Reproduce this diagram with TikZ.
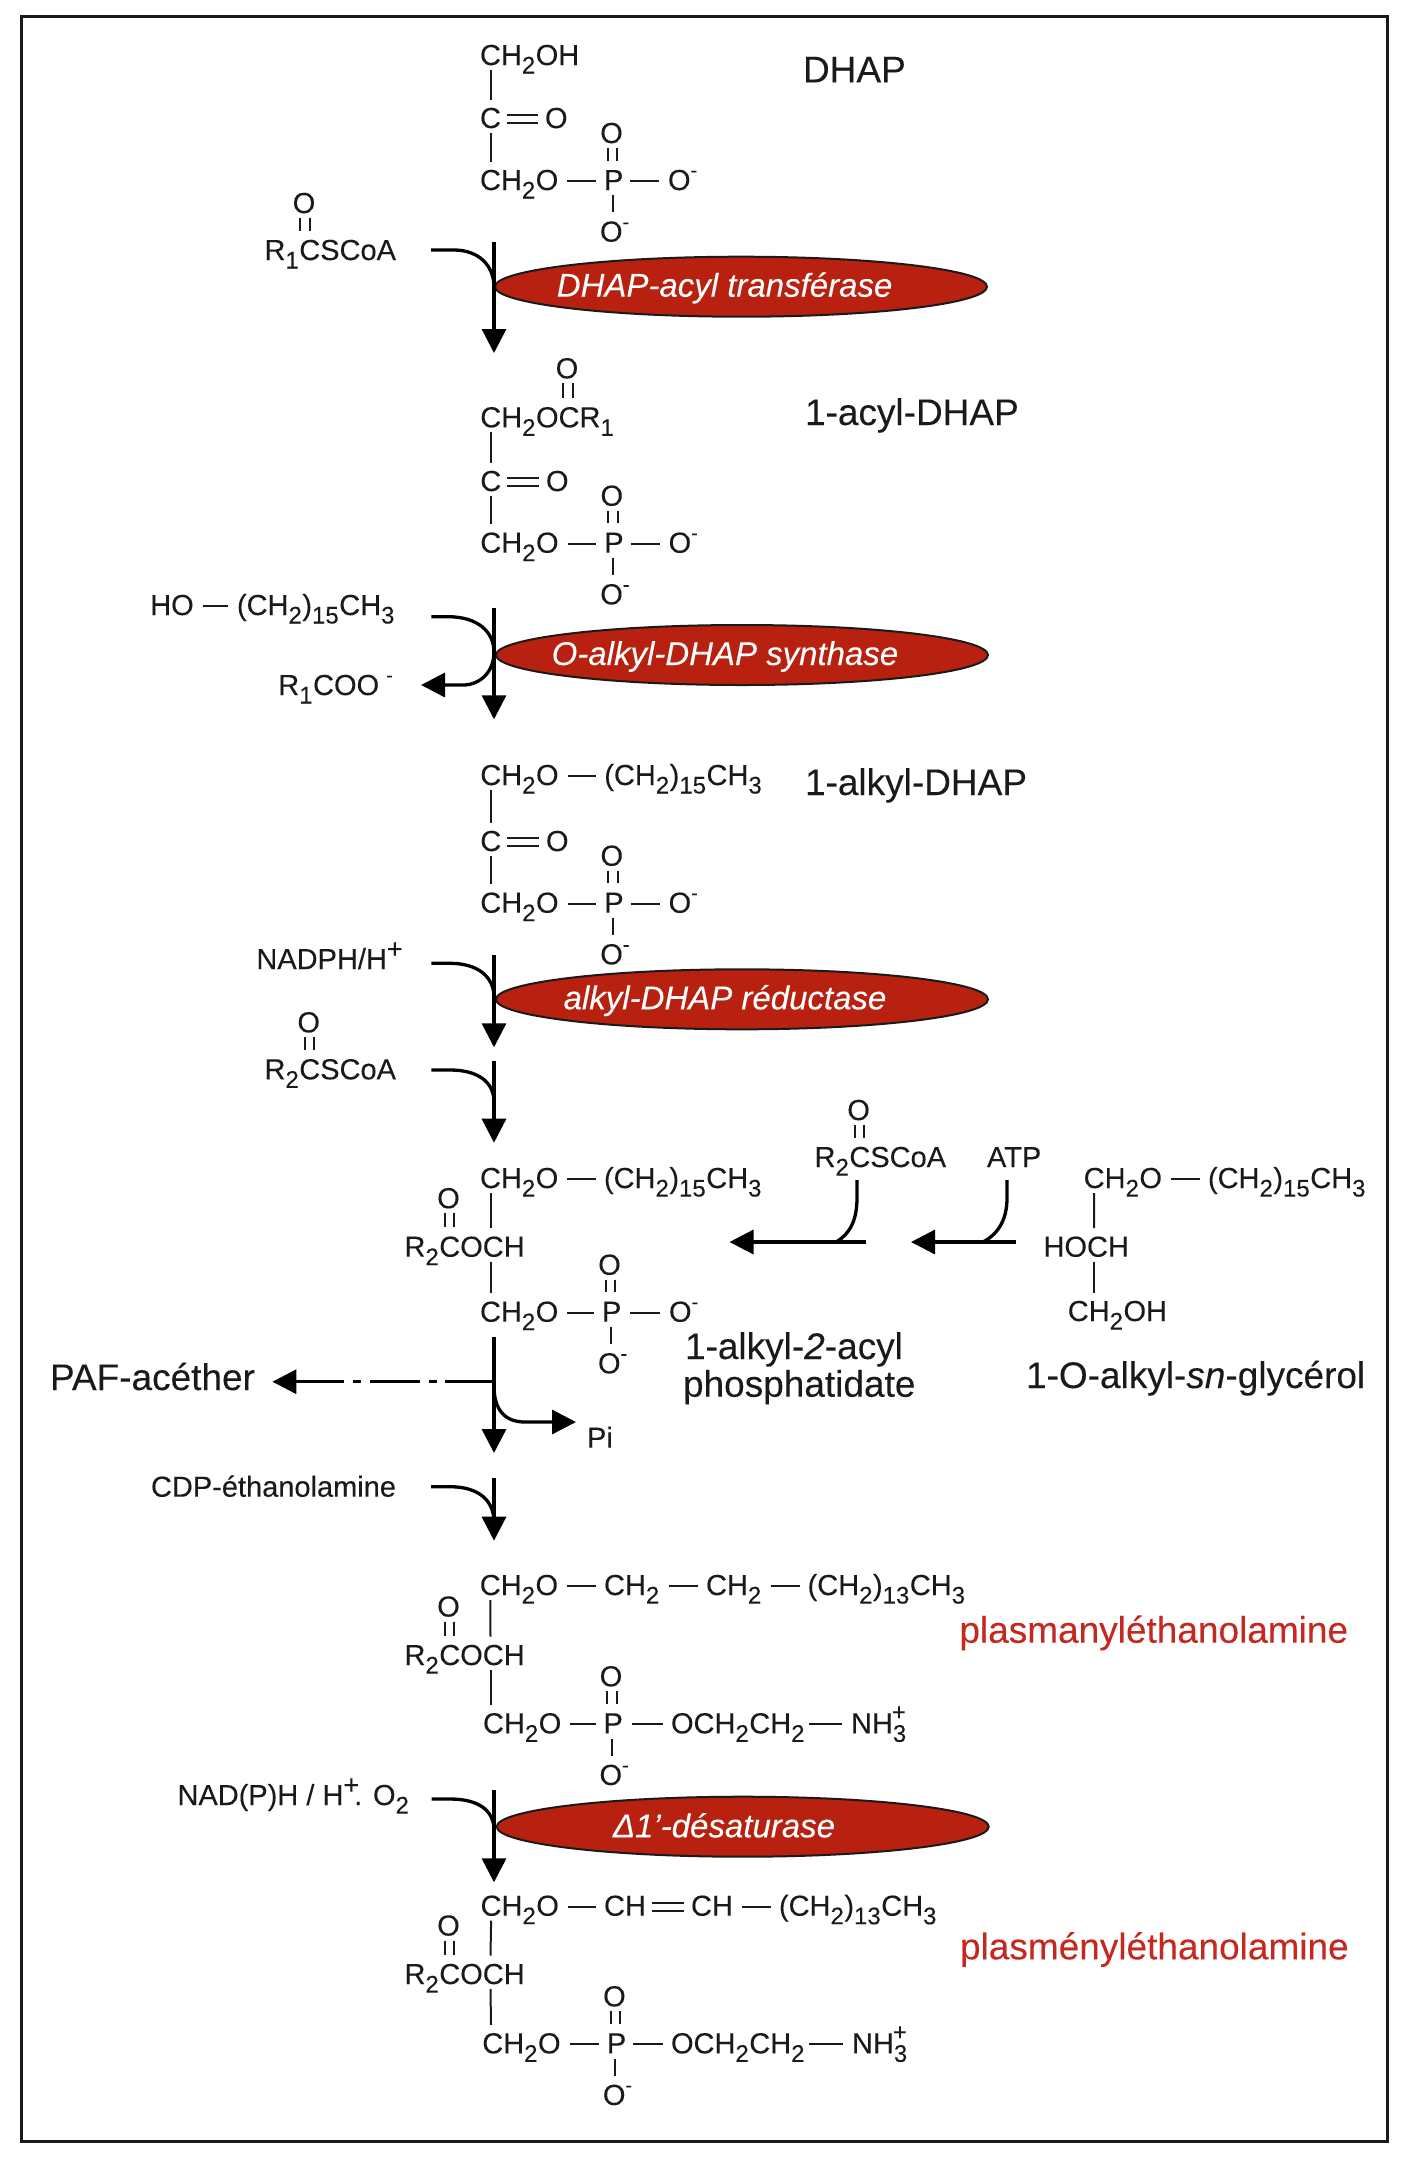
\documentclass[tikz,border=0pt]{standalone}
\usepackage{fontspec}
\setmainfont{Liberation Sans}[FakeBold=0.12]
\usetikzlibrary{arrows.meta,shapes.geometric}
\definecolor{enzred}{HTML}{B8200F}
\definecolor{labred}{HTML}{C4281E}
\definecolor{ink}{HTML}{1A1A1A}
\newcommand\sbs[1]{\raisebox{-8.5pt}{\fontsize{24}{24}\selectfont #1}\kern.5pt}
\newcommand\su[1]{\raisebox{13pt}{\fontsize{20}{20}\selectfont #1}}
\newcommand\plusup{\raisebox{11pt}{\fontsize{27}{27}\selectfont +}}
\newcommand\stackthree{\rlap{\sbs{3}}\raisebox{13pt}{\fontsize{24}{24}\selectfont\hspace{-1pt}+}}
\tikzset{
  atom/.style={inner sep=0pt,outer sep=0pt,anchor=base west,xshift=-1pt,text height=18pt,text depth=0pt,font=\fontsize{29}{29}\selectfont,text=ink},
  oatom/.style={atom,anchor=base},
  biglabel/.style={inner sep=0pt,outer sep=0pt,anchor=base west,xshift=-1pt,font=\fontsize{37}{37}\selectfont,text=ink},
  redlabel/.style={biglabel,text=labred},
  enzyme/.style={shape=ellipse,draw=ink,line width=2pt,fill=enzred,inner sep=0pt,minimum width=492pt,minimum height=60pt},
  enztext/.style={inner sep=0pt,anchor=base,text=white,font=\fontsize{33}{33}\selectfont\itshape},
  bond/.style={line width=2pt,draw=ink},
  flow/.style={line width=3.3pt,draw=black},
  flowarrow/.style={flow,-{Triangle[length=24pt,width=24pt]}},
}
\newcommand\hb[2]{\draw[bond] ([xshift=9pt]#1.east) -- ([xshift=-8pt]#2.west);}
\newcommand\vb[4]{\draw[bond] ([xshift={#2pt+1pt},yshift=-5pt]#1.base west) -- ([xshift={#4pt+1pt},yshift=28.5pt]#3.base west);}
\newcommand\db[3]{%
  \draw[bond] ([xshift=-3.7pt,yshift=-5pt]#1.base) -- ([xshift={#3-3.7pt},yshift=29.5pt]#2.base west);
  \draw[bond] ([xshift=5.7pt,yshift=-5pt]#1.base) -- ([xshift={#3+5.7pt},yshift=29.5pt]#2.base west);}
\newcommand\eqb[2]{%
  \draw[bond] ([xshift=6pt,yshift=5pt]#1.base east) -- ([xshift=-7pt,yshift=5pt]#2.base west);
  \draw[bond] ([xshift=6pt,yshift=12.8pt]#1.base east) -- ([xshift=-7pt,yshift=12.8pt]#2.base west);}
\newcommand\phos[3]{%
  \node[atom] (#1P) at (#2,#3) {P};
  \node[oatom] (#1U) at ({#2+7.5},{#3-47}) {O};
  \db{#1U}{#1P}{7.5pt}
  \node[atom] (#1L) at ({#2-4},{#3+51.6}) {O\su{-}};
  \draw[bond] ([xshift=8.5pt,yshift=-5.3pt]#1P.base west) -- ([xshift=12.5pt,yshift=29.3pt]#1L.base west);}
\newcommand\acyl[2]{%
  \node[atom] (#1R) at (405.5,#2) {R\sbs{2}COCH};
  \node[oatom] (#1RO) at (449.5,{#2-48.5}) {O};
  \db{#1RO}{#1R}{44pt}}
\begin{document}
\begin{tikzpicture}[x=1pt,y=-1pt]
\useasboundingbox (0,0) rectangle (1408,2164);
\draw[line width=2.5pt,draw=ink] (21.7,16.7) rectangle (1387.7,2141.7);

% DHAP
\node[atom] (a1) at (481,65) {CH\sbs{2}OH};
\node[atom] (a2) at (481,128) {C};
\node[atom] (a3) at (546,128) {O};
\node[atom] (a4) at (481,190) {CH\sbs{2}O};
\phos{a}{605}{190}
\node[atom] (a5) at (669,190) {O\su{-}};
\vb{a1}{9.5}{a2}{9.5}
\vb{a2}{9.5}{a4}{9.5}
\eqb{a2}{a3}
\hb{a4}{aP}
\draw[bond] ([xshift=7pt]aP.east) -- ([xshift=-9pt]a5.west);
\node[biglabel] (a6) at (804,82.3) {DHAP};

\node[atom] (s1) at (265.5,260) {R\sbs{1}CSCoA};
\node[oatom] (s1o) at (305,213) {O};
\db{s1o}{s1}{39.5pt}
\node[enzyme] (e1) at (741,286.7) {};
\node[enztext] (e1t) at (724.6,296.7) {DHAP-acyl transférase};
\coordinate (f1a) at (494,241.7);
\coordinate (f1b) at (494,353);
\coordinate (f1c) at (431,250);
\draw[flowarrow] (f1a) -- (f1b);
\draw[flow] (f1c) -- (454,250) .. controls (478,250) and (494,265) .. (494,287);

% 1-acyl-DHAP
\node[atom] (b1) at (481.3,427.3) {CH\sbs{2}OCR\sbs{1}};
\node[oatom] (b1o) at (568,378.3) {O};
\db{b1o}{b1}{86.7pt}
\node[atom] (b2) at (481.3,491) {C};
\node[atom] (b3) at (547,491) {O};
\node[atom] (b4) at (481.3,552.7) {CH\sbs{2}O};
\phos{b}{605.3}{552.7}
\node[atom] (b5) at (669.6,552.7) {O\su{-}};
\vb{b1}{9.5}{b2}{9.5}
\vb{b2}{9.5}{b4}{9.5}
\eqb{b2}{b3}
\hb{b4}{bP}
\draw[bond] ([xshift=7pt]bP.east) -- ([xshift=-9pt]b5.west);
\node[biglabel] (b6) at (806,425) {1-acyl-DHAP};

\node[atom] (s2) at (151.2,615) {HO};
\node[atom] (s2b) at (238,615) {(CH\sbs{2})\sbs{15}CH\sbs{3}};
\draw[bond] ([xshift=9pt]s2.east) -- ([xshift=-9pt]s2b.west);
\node[atom] (s3) at (279.3,695) {R\sbs{1}COO\hspace{7pt}\su{-}};
\node[enzyme] (e2) at (742,655) {};
\node[enztext] (e2t) at (725,665) {O-alkyl-DHAP synthase};
\coordinate (f2a) at (494,608.3);
\coordinate (f2b) at (494,719.3);
\coordinate (f2c) at (431.4,616.7);
\coordinate (f2d) at (421,685);
\draw[flowarrow] (f2a) -- (f2b);
\draw[flowarrow] (f2c) -- (448,616.7) .. controls (478,616.7) and (494,632) .. (494,652) .. controls (494,672) and (480,685) .. (463,685) -- (f2d);

% 1-alkyl-DHAP
\node[atom] (c1) at (481.3,785) {CH\sbs{2}O};
\node[atom] (c1b) at (605.3,785) {(CH\sbs{2})\sbs{15}CH\sbs{3}};
\hb{c1}{c1b}
\node[atom] (c2) at (481.3,851) {C};
\node[atom] (c3) at (547,851) {O};
\node[atom] (c4) at (481.3,912.7) {CH\sbs{2}O};
\phos{c}{605.3}{912.7}
\node[atom] (c5) at (669.6,912.7) {O\su{-}};
\vb{c1}{9.5}{c2}{9.5}
\vb{c2}{9.5}{c4}{9.5}
\eqb{c2}{c3}
\hb{c4}{cP}
\draw[bond] ([xshift=7pt]cP.east) -- ([xshift=-9pt]c5.west);
\node[biglabel] (c6) at (806,795) {1-alkyl-DHAP};

\node[atom] (s4) at (257.4,969) {NADPH/H\plusup};
\node[enzyme] (e3) at (742,999.3) {};
\node[enztext] (e3t) at (725,1009.3) {alkyl-DHAP réductase};
\coordinate (f3a) at (494,955);
\coordinate (f3b) at (494,1047.3);
\coordinate (f3c) at (431.4,963.3);
\draw[flowarrow] (f3a) -- (f3b);
\draw[flow] (f3c) -- (450,963.3) .. controls (478,963.3) and (494,977) .. (494,997);

\node[atom] (s5) at (265.5,1079.3) {R\sbs{2}CSCoA};
\node[oatom] (s5o) at (309.7,1032.3) {O};
\db{s5o}{s5}{44.2pt}
\coordinate (f4a) at (494,1060.7);
\coordinate (f4b) at (494,1142.7);
\coordinate (f4c) at (431.4,1070);
\draw[flowarrow] (f4a) -- (f4b);
\draw[flow] (f4c) -- (450,1070) .. controls (478,1070) and (494,1082) .. (494,1102);

% 1-alkyl-2-acyl phosphatidate
\node[atom] (d1) at (481,1188) {CH\sbs{2}O};
\node[atom] (d1b) at (605,1188) {(CH\sbs{2})\sbs{15}CH\sbs{3}};
\hb{d1}{d1b}
\acyl{d}{1256.7}
\node[atom] (d4) at (481,1321.7) {CH\sbs{2}O};
\phos{d}{603}{1321.7}
\node[atom] (d5) at (670,1321.7) {O\su{-}};
\vb{d1}{9.5}{dR}{85}
\vb{dR}{85}{d4}{9.5}
\hb{d4}{dP}
\draw[bond] ([xshift=9pt]dP.east) -- ([xshift=-9pt]d5.west);
\node[biglabel] (d6) at (686,1359) {1-alkyl-\textit{2}-acyl};
\node[biglabel] (d7) at (684,1396.7) {phosphatidate};

% right side
\node[atom] (r1) at (815.6,1167) {R\sbs{2}CSCoA};
\node[oatom] (r1o) at (859.6,1120) {O};
\db{r1o}{r1}{44pt}
\node[atom] (r2) at (988,1167) {ATP};
\coordinate (g1a) at (857,1180);
\coordinate (g1b) at (866,1242);
\coordinate (g1c) at (729.5,1242);
\draw[flowarrow] (g1b) -- (g1c);
\draw[flow] (g1a) -- (857,1198) .. controls (857,1220) and (850,1234) .. (836,1242);
\coordinate (g2a) at (1007,1180);
\coordinate (g2b) at (1016,1242);
\coordinate (g2c) at (911,1242);
\draw[flowarrow] (g2b) -- (g2c);
\draw[flow] (g2a) -- (1007,1198) .. controls (1007,1220) and (998,1234) .. (983,1242);

\node[atom] (h1) at (1084.7,1188) {CH\sbs{2}O};
\node[atom] (h1b) at (1209,1188) {(CH\sbs{2})\sbs{15}CH\sbs{3}};
\hb{h1}{h1b}
\node[atom] (h2) at (1044.5,1256.7) {HOCH};
\node[atom] (h3) at (1068.8,1321) {CH\sbs{2}OH};
\vb{h1}{9.5}{h2}{49.5}
\vb{h2}{49.5}{h3}{25.2}
\node[biglabel] (h4) at (1027,1388) {1-O-alkyl-\textit{sn}-glycérol};

% branch
\node[biglabel] (p1) at (51,1390) {PAF-acéther};
\node[atom] (p2) at (588,1447.7) {Pi};
\coordinate (f5a) at (494,1336.7);
\coordinate (f5b) at (494,1453);
\coordinate (f5c) at (494,1381.7);
\coordinate (f5d) at (272.4,1381.7);
\coordinate (f5e) at (576,1422);
\draw[flowarrow] (f5a) -- (f5b);
\draw[flow,-{Triangle[length=24pt,width=24pt]},dash pattern=on 49pt off 8pt on 8pt off 9pt on 50pt off 9pt on 8pt off 9pt on 100pt] (f5c) -- (f5d);
\draw[flowarrow] (f5c) -- (494,1386) .. controls (494,1410) and (505,1422) .. (525,1422) -- (f5e);

\node[atom] (s6) at (152,1496.7) {CDP-éthanolamine};
\coordinate (f6a) at (494,1477.7);
\coordinate (f6b) at (494,1540.7);
\coordinate (f6c) at (431,1486.7);
\draw[flowarrow] (f6a) -- (f6b);
\draw[flow] (f6c) -- (450,1486.7) .. controls (478,1486.7) and (494,1500) .. (494,1522);

% plasmanylethanolamine
\node[atom] (k1) at (480.8,1595) {CH\sbs{2}O};
\node[atom] (k1b) at (605,1595) {CH\sbs{2}};
\node[atom] (k1c) at (707,1595) {CH\sbs{2}};
\node[atom] (k1d) at (808.6,1595) {(CH\sbs{2})\sbs{13}CH\sbs{3}};
\hb{k1}{k1b}
\hb{k1b}{k1c}
\hb{k1c}{k1d}
\acyl{k}{1665}
\node[atom] (k4) at (484,1733.3) {CH\sbs{2}O};
\phos{k}{604.5}{1733.3}
\node[atom] (k5) at (672,1733.3) {OCH\sbs{2}CH\sbs{2}};
\node[atom] (k6) at (852,1733.3) {NH\stackthree};
\vb{k1}{9.5}{kR}{85}
\vb{kR}{85}{k4}{6.5}
\hb{k4}{kP}
\draw[bond] ([xshift=9pt]kP.east) -- ([xshift=-8pt]k5.west);
\draw[bond] ([xshift=4pt]k5.east) -- ([xshift=-9pt]k6.west);
\node[redlabel] (k7) at (960.4,1642.7) {plasmanyléthanolamine};

\node[atom] (s7) at (178.5,1805) {NAD(P)H / H\plusup\hspace{-5pt}. O\sbs{2}};
\node[enzyme] (e4) at (742.7,1826.7) {};
\node[enztext] (e4t) at (724,1837.3) {Δ1'-désaturase};
\coordinate (f7a) at (494,1790);
\coordinate (f7b) at (494,1882.3);
\coordinate (f7c) at (431.6,1799);
\draw[flowarrow] (f7a) -- (f7b);
\draw[flow] (f7c) -- (450,1799) .. controls (478,1799) and (494,1810) .. (494,1830);

% plasmenylethanolamine
\node[atom] (m1) at (481.6,1915.7) {CH\sbs{2}O};
\node[atom] (m1b) at (605,1915.7) {CH};
\node[atom] (m1c) at (692,1915.7) {CH};
\node[atom] (m1d) at (780,1915.7) {(CH\sbs{2})\sbs{13}CH\sbs{3}};
\hb{m1}{m1b}
\eqb{m1b}{m1c}
\hb{m1c}{m1d}
\acyl{m}{1984}
\node[atom] (m4) at (483.3,2053.3) {CH\sbs{2}O};
\phos{m}{607.9}{2053.3}
\node[atom] (m5) at (672,2053.3) {OCH\sbs{2}CH\sbs{2}};
\node[atom] (m6) at (853,2053.3) {NH\stackthree};
\vb{m1}{9.5}{mR}{85}
\vb{mR}{85}{m4}{7.7}
\hb{m4}{mP}
\draw[bond] ([xshift=7pt]mP.east) -- ([xshift=-8pt]m5.west);
\draw[bond] ([xshift=4pt]m5.east) -- ([xshift=-9pt]m6.west);
\node[redlabel] (m7) at (961,1959.3) {plasményléthanolamine};
\end{tikzpicture}
\end{document}
